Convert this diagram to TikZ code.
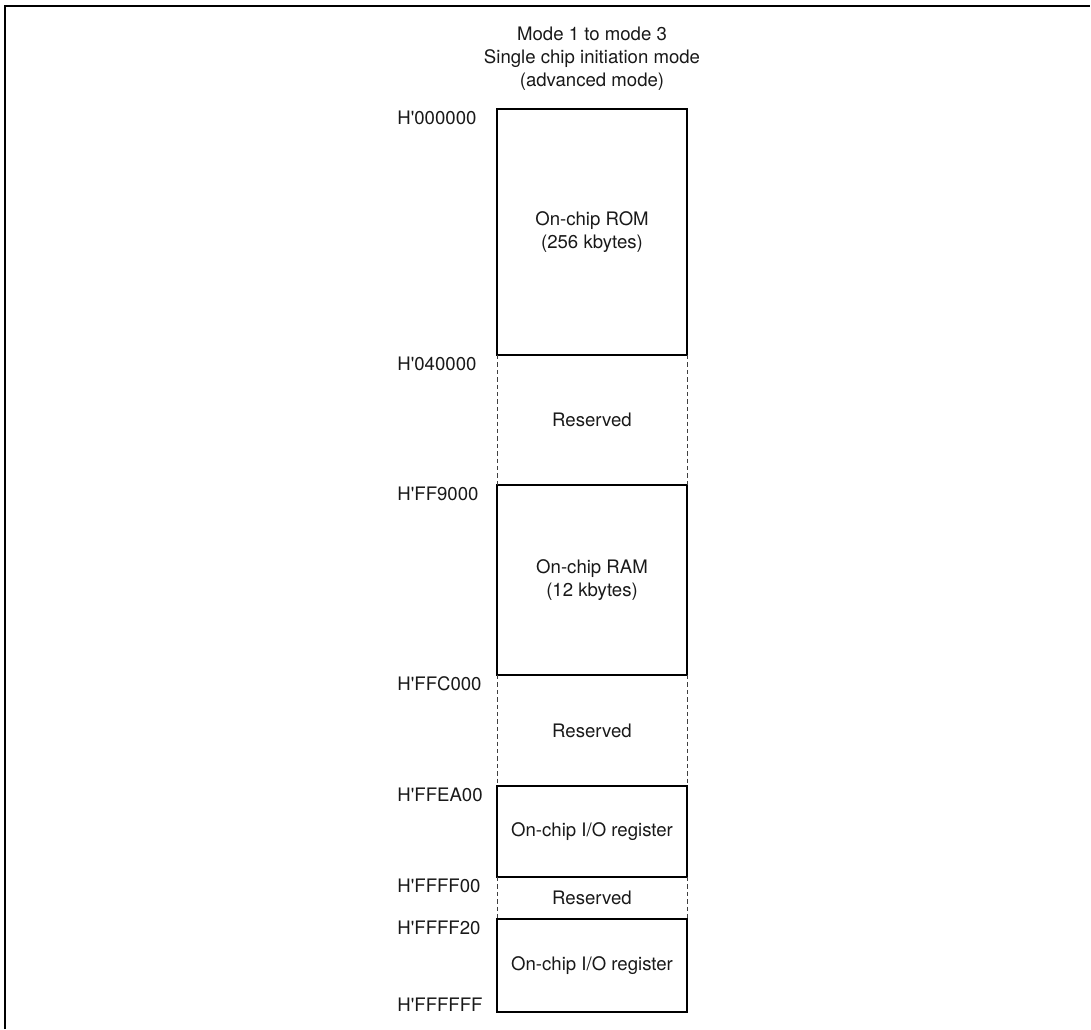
\documentclass[tikz,border=0pt]{standalone}
\usepackage{fontspec}
\setmainfont{TeX Gyre Heros}
\usetikzlibrary{positioning}
\usetikzlibrary{calc}

\begin{document}
\begin{tikzpicture}[
    x=1pt, y=-1pt,
    every node/.style={font=\fontsize{9.3}{11.4}\selectfont, text=black!90},
    region/.style={draw, line width=0.65pt, rectangle, minimum width=95pt, outer sep=0pt, inner sep=0pt, align=center},
    reserved/.style={rectangle, minimum width=95pt, outer sep=0pt, inner sep=0pt, align=center},
    dashline/.style={black!75, line width=0.5pt, dash pattern=on 2.2pt off 1.5pt},
    addr/.style={anchor=west, inner sep=0pt}
]
\useasboundingbox (0,0) rectangle (545.5,514.5);

% Frame
\draw[line width=1pt] (2.5,514.5) -- (2.5,3) -- (545,3);

% Title
\node[align=center] (title) at (296,29.25) {Mode 1 to mode 3\\Single chip initiation mode\\(advanced mode)};

% Memory areas
\node[region, minimum height=123pt] (rom) at (296,116) {On-chip ROM\\(256 kbytes)};
\node[reserved, below=0pt of rom, minimum height=65pt] (res1) {Reserved};
\node[region, below=0pt of res1, minimum height=95pt] (ram) {On-chip RAM\\(12 kbytes)};
\node[reserved, below=0pt of ram, minimum height=55.5pt] (res2) {Reserved};
\node[region, below=0pt of res2, minimum height=45.5pt] (io1) {On-chip I/O register};
\node[reserved, below=0pt of io1, minimum height=21pt] (res3) {Reserved};
\node[region, below=0pt of res3, minimum height=46.5pt] (io2) {On-chip I/O register};

% Dashed sides of reserved areas
\draw[dashline] (res1.north west) -- (res1.south west);
\draw[dashline] (res1.north east) -- (res1.south east);
\draw[dashline] (res2.north west) -- (res2.south west);
\draw[dashline] (res2.north east) -- (res2.south east);
\draw[dashline] (res3.north west) -- (res3.south west);
\draw[dashline] (res3.north east) -- (res3.south east);

% Addresses
\node[addr] (a0) at ($(rom.north west)+(-50pt,-4.5pt)$) {H\textquotesingle000000};
\node[addr] (a1) at ($(res1.north west)+(-50pt,-4.5pt)$) {H\textquotesingle040000};
\node[addr] (a2) at ($(ram.north west)+(-50pt,-4.5pt)$) {H\textquotesingle FF9000};
\node[addr] (a3) at ($(res2.north west)+(-50pt,-4.5pt)$) {H\textquotesingle FFC000};
\node[addr] (a4) at ($(io1.north west)+(-50pt,-4.5pt)$) {H\textquotesingle FFEA00};
\node[addr] (a5) at ($(res3.north west)+(-50pt,-4.5pt)$) {H\textquotesingle FFFF00};
\node[addr] (a6) at ($(io2.north west)+(-50pt,-4.5pt)$) {H\textquotesingle FFFF20};
\node[addr] (a7) at ($(io2.south west)+(-50pt,3.5pt)$) {H\textquotesingle FFFFFF};

\end{tikzpicture}
\end{document}
